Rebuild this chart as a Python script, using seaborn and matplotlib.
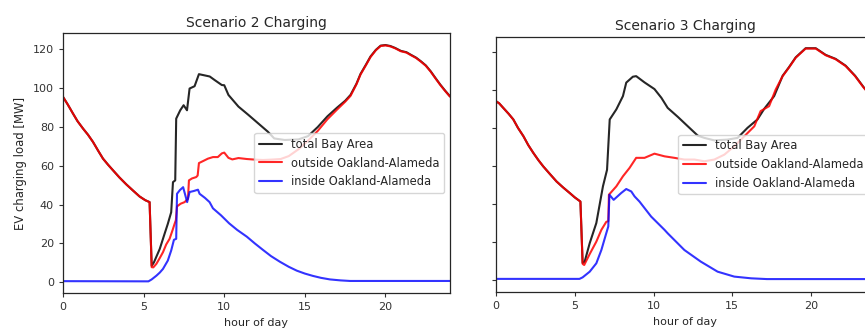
import numpy as np
import pandas as pd
import matplotlib
matplotlib.use("Agg")
import matplotlib.pyplot as plt
import seaborn as sns

# ---------------- data ----------------
# Scenario 2
s2_out_h = [0, 0.3, 0.62, 0.9, 1.24, 1.55, 1.86, 2.2, 2.48, 2.8, 3.1, 3.5, 3.93, 4.35, 4.75, 5.1, 5.37,
            5.5, 5.6, 5.79, 6.0, 6.2, 6.4, 6.61, 6.8, 6.92, 7.0, 7.07, 7.3, 7.54, 7.75, 7.81, 8.0, 8.26,
            8.35, 8.43, 8.7, 8.99, 9.3, 9.6, 9.85, 10.0, 10.26, 10.5, 10.88, 11.4, 11.9, 12.4, 12.94,
            13.5, 14.0, 14.6, 15.2, 15.8, 16.4, 17.0, 17.5, 17.83, 18.2, 18.45, 18.8, 19.07, 19.4, 19.7,
            20.0, 20.3, 20.6, 20.95, 21.3, 21.57, 21.9, 22.2, 22.5, 22.8, 23.1, 23.4, 23.7, 24.0]
s2_out = [95.5, 91.5, 86.9, 83.0, 79.2, 76.0, 72.3, 67.5, 63.7, 60.5, 57.7, 54.0, 50.4, 47.2, 44.2, 42.3, 41.3,
          7.8, 7.7, 9.5, 12.5, 15.5, 19.5, 22.4, 27.0, 30.1, 32.0, 39.1, 40.5, 41.3, 43.0, 52.5, 53.5, 54.2,
          55.0, 61.4, 62.5, 63.7, 64.5, 64.5, 66.4, 66.8, 64.1, 63.3, 64.0, 63.5, 63.2, 63.0, 63.2,
          63.5, 65.0, 68.5, 73.0, 78.0, 84.0, 89.0, 93.0, 96.0, 102.0, 107.0, 112.0, 116.0, 119.5, 121.7,
          122.0, 121.5, 120.5, 119.0, 118.3, 117.0, 115.5, 113.6, 111.5, 108.5, 105.0, 101.6, 98.5, 95.6]

s2_tot_h = [0, 0.3, 0.62, 0.9, 1.24, 1.55, 1.86, 2.2, 2.48, 2.8, 3.1, 3.5, 3.93, 4.35, 4.75, 5.1, 5.37,
            5.5, 5.64, 6.0, 6.3, 6.5, 6.71, 6.82, 6.96, 7.02, 7.27, 7.48, 7.69, 7.85, 8.16, 8.43, 8.88,
            9.1, 9.4, 9.85, 10.0, 10.26, 10.88, 11.5, 12.1, 12.7, 13.1, 13.75, 14.6, 15.2, 15.8, 16.4,
            17.0, 17.5, 17.83, 18.2, 18.45, 18.8, 19.07, 19.4, 19.7, 20.0, 20.3, 20.6, 20.95, 21.3, 21.57,
            21.9, 22.2, 22.5, 22.8, 23.1, 23.4, 23.7, 24.0]
s2_tot = [95.5, 91.5, 86.9, 83.0, 79.2, 76.0, 72.3, 67.5, 63.7, 60.5, 57.7, 54.0, 50.4, 47.2, 44.2, 42.3, 41.3,
          8.5, 10.3, 17.2, 25.0, 30.1, 36.1, 51.6, 52.5, 84.3, 88.6, 91.2, 88.6, 99.8, 101.0, 107.2, 106.4,
          106.0, 104.2, 101.6, 101.5, 96.5, 90.5, 86.2, 81.9, 77.6, 74.1, 73.3, 73.6, 75.3, 80.0, 85.5,
          90.0, 93.5, 96.5, 102.3, 107.3, 112.3, 116.3, 119.7, 121.9, 122.2, 121.7, 120.7, 119.2, 118.5, 117.2,
          115.7, 113.8, 111.7, 108.7, 105.2, 101.8, 98.7, 95.8]

s2_in_h = [0, 5.3, 5.5, 5.79, 6.0, 6.2, 6.5, 6.71, 6.88, 7.02, 7.07, 7.25, 7.45, 7.7, 7.85, 8.1, 8.37, 8.47,
           8.8, 9.09, 9.3, 9.8, 10.3, 10.8, 11.4, 11.9, 12.4, 12.9, 13.45, 14.0, 14.5, 15.0, 15.5, 16.0,
           16.55, 17.2, 17.8, 24.0]
s2_in = [0.6, 0.5, 1.5, 3.4, 5.0, 6.9, 11.2, 16.4, 21.9, 22.4, 45.6, 47.5, 49.0, 41.3, 46.5, 47.0, 47.7, 45.6,
         43.5, 41.3, 38.1, 34.5, 30.4, 27.0, 23.5, 20.0, 16.7, 13.5, 10.6, 8.0, 6.0, 4.5, 3.3, 2.3,
         1.5, 1.0, 0.7, 0.7]

# Scenario 3
s3_out_h = [0, 0.2, 0.46, 0.8, 1.1, 1.4, 1.74, 2.05, 2.37, 2.7, 3.0, 3.4, 3.84, 4.25, 4.68, 5.0, 5.36,
            5.5, 5.6, 5.95, 6.37, 6.69, 7.0, 7.13, 7.17, 7.64, 8.06, 8.48, 8.9, 9.43, 10.06, 10.7, 11.33,
            11.96, 12.6, 13.23, 13.86, 14.5, 15.13, 15.77, 16.4, 16.8, 17.34, 17.76, 18.2, 18.6, 19.03,
            19.66, 20.3, 20.93, 21.56, 22.2, 22.8, 23.35, 24.0]
s3_out = [94.1, 93.0, 90.6, 87.5, 84.5, 80.0, 75.7, 71.0, 66.9, 63.0, 59.8, 56.0, 51.9, 48.8, 45.8, 43.5, 41.3,
          8.5, 7.9, 13.7, 20.2, 26.4, 30.6, 31.0, 44.9, 49.3, 54.6, 59.0, 64.3, 64.3, 66.5, 65.1, 64.3,
          63.4, 63.4, 62.5, 63.4, 66.0, 70.4, 75.7, 80.9, 88.9, 91.5, 100.3, 107.3, 111.8, 117.0,
          121.8, 121.8, 118.3, 116.2, 112.6, 107.3, 101.2, 95.0]

s3_tot_h = [0, 0.2, 0.46, 0.8, 1.1, 1.4, 1.74, 2.05, 2.37, 2.7, 3.0, 3.4, 3.84, 4.25, 4.68, 5.0, 5.36,
            5.5, 5.63, 5.95, 6.37, 6.79, 7.05, 7.22, 7.64, 8.06, 8.27, 8.69, 8.9, 9.43, 10.06, 10.5, 10.9,
            11.54, 12.18, 12.81, 13.23, 13.86, 14.7, 15.34, 15.97, 16.6, 17.03, 17.66, 18.2, 18.6, 19.03,
            19.66, 20.3, 20.93, 21.56, 22.2, 22.8, 23.35, 24.0]
s3_tot = [94.1, 93.0, 90.6, 87.5, 84.5, 80.0, 75.7, 71.0, 66.9, 63.0, 59.8, 56.0, 51.9, 48.8, 45.8, 43.5, 41.3,
          9.0, 9.7, 19.4, 30.0, 49.3, 58.0, 84.5, 89.8, 96.8, 103.9, 107.0, 107.3, 104.0, 100.5, 95.9, 90.6,
          85.9, 80.9, 76.0, 74.8, 73.5, 73.9, 74.8, 80.1, 84.5, 90.1, 96.8, 107.5, 112.0, 117.2,
          122.0, 122.0, 118.5, 116.4, 112.8, 107.5, 101.4, 95.2]

s3_in_h = [0, 5.3, 5.5, 5.95, 6.37, 6.69, 7.0, 7.13, 7.2, 7.47, 7.95, 8.27, 8.59, 8.8, 9.11, 9.85, 10.7,
           10.9, 11.96, 13.0, 14.07, 15.13, 16.2, 17.2, 24.0]
s3_in = [0.6, 0.6, 1.4, 4.4, 8.8, 15.8, 24.6, 28.2, 44.9, 42.2, 45.8, 47.9, 46.6, 44.0, 41.3, 33.4, 26.4,
         24.6, 15.8, 9.7, 4.4, 1.8, 0.9, 0.5, 0.5]

titles = ["Scenario 2 Charging", "Scenario 3 Charging"]
labels = ["total Bay Area", "outside Oakland-Alameda", "inside Oakland-Alameda"]
x_ticks = [0, 5, 10, 15, 20]
y_ticks = [0, 20, 40, 60, 80, 100, 120]

# ---------------- style ----------------
sns.set_style("ticks")
plt.rcParams["font.family"] = ["DejaVu Sans"]
plt.rcParams["axes.linewidth"] = 0.9

fig = plt.figure(figsize=(8.65, 3.32), dpi=100)
ax1 = fig.add_axes([63 / 865, 39 / 332, 387 / 865, 260 / 332])
ax2 = fig.add_axes([496 / 865, 40 / 332, 378 / 865, 255 / 332])

panels = [
    (ax1, (s2_tot_h, s2_tot), (s2_out_h, s2_out), (s2_in_h, s2_in), titles[0], 4, (-5.5, 128.4)),
    (ax2, (s3_tot_h, s3_tot), (s3_out_h, s3_out), (s3_in_h, s3_in), titles[1], 5, (-6.3, 127.9)),
]
colors = ["black", "red", "blue"]
alphas = [0.85, 0.85, 0.8]

for ax, tot, out, inn, title, pad, ylim in panels:
    for (hx, vy), c, a, lab in zip([tot, out, inn], colors, alphas, labels):
        sns.lineplot(x=hx, y=vy, ax=ax, color=c, alpha=a, linewidth=1.5, label=lab,
                     sort=False, estimator=None)
    ax.set_xlim(0, 24)
    ax.set_ylim(*ylim)
    ax.set_xticks(x_ticks)
    ax.set_yticks(y_ticks)
    ax.tick_params(labelsize=8, length=3, width=0.8, colors="0.2")
    ax.set_xlabel("hour of day", fontsize=8, color="0.15")
    ax.set_title(title, fontsize=10, pad=pad, color="0.15")
    leg = ax.legend(loc="center right", fontsize=8.3, framealpha=0.8, edgecolor="0.8",
                    fancybox=True)
    for t in leg.get_texts():
        t.set_color("0.15")

ax1.set_ylabel("EV charging load [MW]", fontsize=8.4, color="0.15")
ax2.set_ylabel("")
ax2.set_yticklabels([])

fig.savefig("out.png", dpi=100)
